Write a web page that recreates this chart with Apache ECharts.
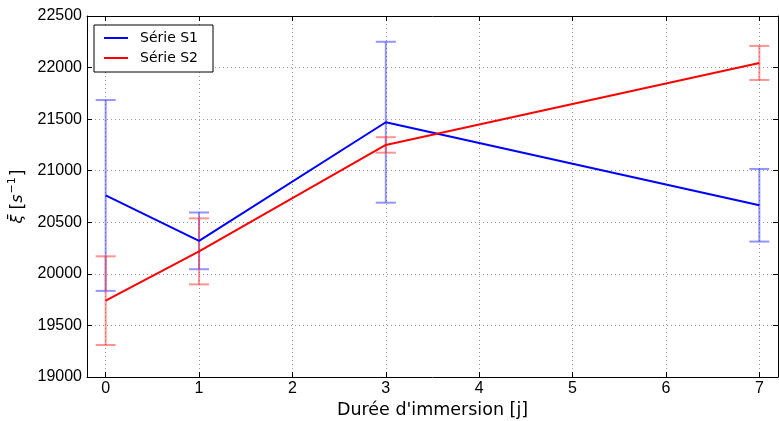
<!DOCTYPE html>
<html>
<head>
<meta charset="utf-8">
<script src="https://cdn.jsdelivr.net/npm/echarts@6/dist/echarts.min.js"></script>
<style>
html,body{margin:0;padding:0;background:#fff;}
#chart{width:779px;height:421px;}
</style>
</head>
<body>
<div id="chart"></div>
<script>
var days = [0, 1, 3, 7];
var s1 = [20760, 20320, 21470, 20665];
var s1Err = [925, 275, 780, 352];
var s2 = [19740, 20218, 21250, 22045];
var s2Err = [430, 320, 75, 165];
var xTicks = [0, 1, 2, 3, 4, 5, 6, 7];
var seriesNames = ['Série S1', 'Série S2'];

function errData(vals, errs) {
  return days.map(function (d, i) { return [d, vals[i] - errs[i], vals[i] + errs[i]]; });
}
function errRender(color) {
  return function (params, api) {
    var x = api.value(0);
    var lo = api.coord([x, api.value(1)]);
    var hi = api.coord([x, api.value(2)]);
    var hw = 10;
    var style = { stroke: color, lineWidth: 2 };
    return {
      type: 'group',
      children: [
        { type: 'line', shape: { x1: lo[0], y1: lo[1], x2: hi[0], y2: hi[1] }, style: style },
        { type: 'line', shape: { x1: lo[0] - hw, y1: lo[1], x2: lo[0] + hw, y2: lo[1] }, style: style },
        { type: 'line', shape: { x1: hi[0] - hw, y1: hi[1], x2: hi[0] + hw, y2: hi[1] }, style: style }
      ]
    };
  };
}
function lineData(vals) { return days.map(function (d, i) { return [d, vals[i]]; }); }

var chart = echarts.init(document.getElementById('chart'));
var gridLine = { show: true, lineStyle: { color: '#9a9a9a', type: [1, 3], width: 1 } };
var xFmt = function (v) { return xTicks.indexOf(v) >= 0 ? String(v) : ''; };
chart.setOption({
  animation: false,
  backgroundColor: '#fff',
  grid: { left: 87, right: 1, top: 16, bottom: 44, containLabel: false, outerBoundsMode: 'none' },
  legend: {
    data: seriesNames,
    orient: 'vertical',
    left: 94, top: 25,
    padding: [5, 15, 6, 10],
    itemGap: 4,
    icon: 'rect',
    itemWidth: 24, itemHeight: 2,
    borderColor: '#000', borderWidth: 1, borderRadius: 0,
    backgroundColor: '#fff',
    textStyle: { fontFamily: 'DejaVu Sans', fontSize: 14, color: '#000', padding: [0, 0, 0, 7], lineHeight: 16 }
  },
  xAxis: [{
    type: 'value', min: -0.2, max: 7.2, splitNumber: 8,
    name: "Durée d'immersion [j]", nameLocation: 'middle', nameGap: 23,
    nameTextStyle: { fontFamily: 'DejaVu Sans', fontSize: 17.5, color: '#000' },
    axisLine: { show: true, onZero: false, lineStyle: { color: '#000', width: 1 } },
    axisTick: { show: true, inside: true, length: 5, lineStyle: { color: '#000' } },
    axisLabel: { formatter: xFmt, fontFamily: 'Liberation Sans', fontSize: 16, color: '#000', margin: 4 },
    splitLine: gridLine
  }, {
    type: 'value', min: -0.2, max: 7.2, splitNumber: 8, position: 'top',
    axisLine: { show: true, onZero: false, lineStyle: { color: '#000', width: 1 } },
    axisTick: { show: true, inside: true, length: 5, lineStyle: { color: '#000' } },
    axisLabel: { show: false },
    splitLine: { show: false }
  }],
  yAxis: [{
    type: 'value', min: 19000, max: 22500, interval: 500,
    name: '{i|ξ̄} {n|[}{i|s}{sup|−1}{n|]}', nameLocation: 'middle', nameGap: 55,
    nameTextStyle: {
      fontFamily: 'DejaVu Sans', fontSize: 16, color: '#000',
      rich: {
        i: { fontFamily: 'DejaVu Sans', fontStyle: 'italic', fontSize: 16, color: '#000', lineHeight: 22 },
        n: { fontFamily: 'DejaVu Sans', fontSize: 17, color: '#000', lineHeight: 22 },
        sup: { fontFamily: 'DejaVu Sans', fontSize: 11, color: '#000', verticalAlign: 'top', lineHeight: 22, padding: [0, 1, 0, 1] }
      }
    },
    axisLine: { show: true, onZero: false, lineStyle: { color: '#000', width: 1 } },
    axisTick: { show: true, inside: true, length: 5, lineStyle: { color: '#000' } },
    axisLabel: { formatter: function (v) { return String(v); }, fontFamily: 'Liberation Sans', fontSize: 16, color: '#000', margin: 5 },
    splitLine: gridLine
  }, {
    type: 'value', min: 19000, max: 22500, interval: 500, position: 'right',
    axisLine: { show: true, onZero: false, lineStyle: { color: '#000', width: 1 } },
    axisTick: { show: true, inside: true, length: 5, lineStyle: { color: '#000' } },
    axisLabel: { show: false },
    splitLine: { show: false }
  }],
  series: [
    { type: 'custom', name: 'err1', renderItem: errRender('rgba(60,60,255,0.55)'), data: errData(s1, s1Err), z: 2, silent: true },
    { type: 'custom', name: 'err2', renderItem: errRender('rgba(255,60,60,0.55)'), data: errData(s2, s2Err), z: 2, silent: true },
    { type: 'line', name: seriesNames[0], data: lineData(s1), symbol: 'none', lineStyle: { color: '#0000ff', width: 2 }, itemStyle: { color: '#0000ff' }, z: 3 },
    { type: 'line', name: seriesNames[1], data: lineData(s2), symbol: 'none', lineStyle: { color: '#ff0000', width: 2 }, itemStyle: { color: '#ff0000' }, z: 3 }
  ]
});
</script>
</body>
</html>
